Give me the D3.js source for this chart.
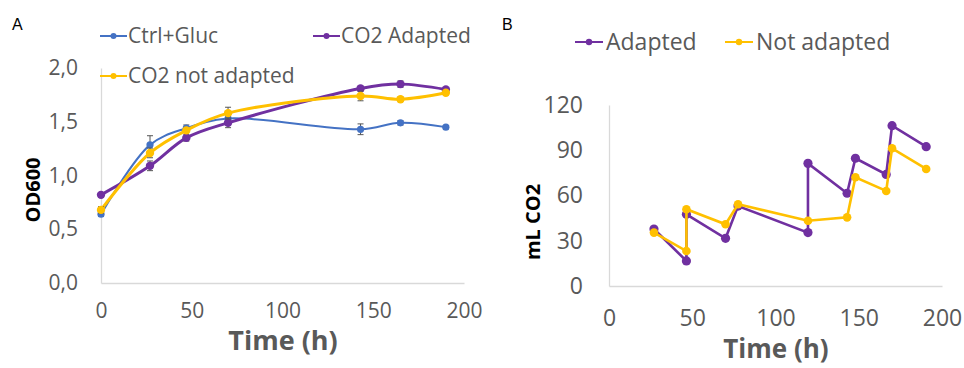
<!DOCTYPE html>
<html>
<head>
<meta charset="utf-8">
<script src="https://cdn.jsdelivr.net/npm/d3@7"></script>
<style>
  body { margin: 0; background: #fff; }
  text { font-family: "Open Sans", sans-serif; }
</style>
</head>
<body>
<div id="canvas"></div>
<script>
// panel A: OD600 growth curves
var timeA = [0, 27, 47, 70, 143, 165, 190];
var ctrlGluc = [0.64, 1.285, 1.44, 1.53, 1.43, 1.49, 1.45];
var ctrlGlucErr = [0.02, 0.085, 0.03, 0.02, 0.05, 0.02, 0.015];
var co2Adapted = [0.82, 1.09, 1.35, 1.49, 1.81, 1.85, 1.80];
var co2AdaptedErr = [0.02, 0.045, 0.03, 0.045, 0.02, 0.03, 0.015];
var co2NotAdapted = [0.68, 1.21, 1.42, 1.58, 1.74, 1.71, 1.77];
var co2NotAdaptedErr = [0.03, 0.045, 0.02, 0.055, 0.045, 0.02, 0.02];
var ticksAx = [0, 50, 100, 150, 200];
var ticksAy = [0, 0.5, 1.0, 1.5, 2.0];

// panel B: cumulative CO2 (mL)
var adaptedT = [27, 46.5, 46.5, 70, 77.5, 119.5, 119.5, 143, 148, 166.5, 170, 190.5];
var adaptedV = [37.8, 16.6, 47.5, 31.6, 53, 35.4, 81.3, 61.5, 84.7, 74, 106.3, 92.4];
var notAdaptedT = [27, 46.5, 46.5, 70, 77.5, 119.5, 143, 148, 166.5, 170, 190.5];
var notAdaptedV = [35.4, 23.2, 50.9, 40.9, 54.2, 43.3, 45.5, 72.1, 63, 91.3, 77.6];
var ticksBx = [0, 50, 100, 150, 200];
var ticksBy = [0, 30, 60, 90, 120];

var blue = "#4472c4", purple = "#7030a0", yellow = "#ffc000";
var axisGray = "#d9d9d9", textGray = "#595959";

var svg = d3.select("#canvas").append("svg")
	.attr("width", 964)
	.attr("height", 368);

var comma = function(d){ return d3.format(".1f")(d).replace(".", ","); };

// ---------- panel A ----------
var xA = d3.scaleLinear().domain([0, 200]).range([101, 464]);
var yA = d3.scaleLinear().domain([0, 2]).range([283, 68]);

svg.append("text").attr("x", 12).attr("y", 30)
	.style("font-family", "Liberation Sans").style("font-size", "16px").text("A");

var gAx = svg.append("g").attr("transform", "translate(0,283)")
	.call(d3.axisBottom(xA).tickValues(ticksAx).tickSize(0).tickPadding(20));
var gAy = svg.append("g").attr("transform", "translate(101,0)")
	.call(d3.axisLeft(yA).tickValues(ticksAy).tickSize(0).tickPadding(23).tickFormat(comma));
[gAx, gAy].forEach(function(g){
	g.select(".domain").attr("stroke", axisGray).attr("stroke-width", 1.3);
	g.selectAll("text").style("font-size", "21px").attr("fill", textGray)
		.style("font-family", "Open Sans");
});

svg.append("text").attr("transform", "translate(40,190) rotate(-90)")
	.attr("text-anchor", "middle").style("font-size", "20px").style("font-weight", "bold")
	.text("OD600");
svg.append("text").attr("x", 283).attr("y", 350).attr("text-anchor", "middle")
	.style("font-size", "27px").style("font-weight", "bold").attr("fill", textGray)
	.text("Time (h)");

var seriesA = [
	{name: "Ctrl+Gluc", vals: ctrlGluc, err: ctrlGlucErr, color: blue, w: 2, r: 3.6},
	{name: "CO2 Adapted", vals: co2Adapted, err: co2AdaptedErr, color: purple, w: 3, r: 4.2},
	{name: "CO2 not adapted", vals: co2NotAdapted, err: co2NotAdaptedErr, color: yellow, w: 3, r: 4.2}
];

var lineA = d3.line()
	.x(function(d){ return xA(d[0]); })
	.y(function(d){ return yA(d[1]); })
	.curve(d3.curveCatmullRom.alpha(0.5));

seriesA.forEach(function(s){
	var pts = timeA.map(function(t, i){ return [t, s.vals[i], s.err[i]]; });
	var g = svg.append("g");
	g.append("path").datum(pts).attr("d", lineA)
		.attr("fill", "none").attr("stroke", s.color).attr("stroke-width", s.w);
	var eb = g.selectAll(".err").data(pts).enter().append("g");
	eb.append("line")
		.attr("x1", function(d){ return xA(d[0]); }).attr("x2", function(d){ return xA(d[0]); })
		.attr("y1", function(d){ return yA(d[1] - d[2]); }).attr("y2", function(d){ return yA(d[1] + d[2]); })
		.attr("stroke", "#555").attr("stroke-width", 1);
	[-1, 1].forEach(function(sign){
		eb.append("line")
			.attr("x1", function(d){ return xA(d[0]) - 3; }).attr("x2", function(d){ return xA(d[0]) + 3; })
			.attr("y1", function(d){ return yA(d[1] + sign * d[2]); })
			.attr("y2", function(d){ return yA(d[1] + sign * d[2]); })
			.attr("stroke", "#555").attr("stroke-width", 1);
	});
	g.selectAll("circle").data(pts).enter().append("circle")
		.attr("cx", function(d){ return xA(d[0]); })
		.attr("cy", function(d){ return yA(d[1]); })
		.attr("r", s.r).attr("fill", s.color);
});

// legend A
var legA = [
	{s: seriesA[0], x: 100, y: 36},
	{s: seriesA[1], x: 313, y: 36},
	{s: seriesA[2], x: 100, y: 76}
];
legA.forEach(function(l){
	var g = svg.append("g").attr("transform", "translate(" + l.x + "," + l.y + ")");
	g.append("line").attr("x1", 0).attr("x2", 27).attr("stroke", l.s.color).attr("stroke-width", 2);
	g.append("circle").attr("cx", 13.5).attr("r", 3).attr("fill", l.s.color);
	g.append("text").attr("x", 28).attr("dy", "0.35em")
		.style("font-size", "21px").attr("fill", textGray).text(l.s.name);
});

// ---------- panel B ----------
var xB = d3.scaleLinear().domain([0, 200]).range([609, 942]);
var yB = d3.scaleLinear().domain([0, 120]).range([286, 105]);

svg.append("text").attr("x", 502).attr("y", 30)
	.style("font-family", "Liberation Sans").style("font-size", "16px").text("B");

var gBx = svg.append("g").attr("transform", "translate(0,286)")
	.call(d3.axisBottom(xB).tickValues(ticksBx).tickSize(0).tickPadding(24));
var gBy = svg.append("g").attr("transform", "translate(609,0)")
	.call(d3.axisLeft(yB).tickValues(ticksBy).tickSize(0).tickPadding(26));
[gBx, gBy].forEach(function(g){
	g.select(".domain").attr("stroke", axisGray).attr("stroke-width", 1.3);
	g.selectAll("text").style("font-size", "23px").attr("fill", textGray)
		.style("font-family", "Open Sans");
});

svg.append("text").attr("transform", "translate(540,222) rotate(-90)")
	.attr("text-anchor", "middle").style("font-size", "20px").style("font-weight", "bold")
	.text("mL CO2");
svg.append("text").attr("x", 776).attr("y", 358).attr("text-anchor", "middle")
	.style("font-size", "26px").style("font-weight", "bold").attr("fill", textGray)
	.text("Time (h)");

var seriesB = [
	{name: "Adapted", t: adaptedT, v: adaptedV, color: purple, r: 4.6},
	{name: "Not adapted", t: notAdaptedT, v: notAdaptedV, color: yellow, r: 4.3}
];
var lineB = d3.line()
	.x(function(d){ return xB(d[0]); })
	.y(function(d){ return yB(d[1]); });

seriesB.forEach(function(s){
	var pts = s.t.map(function(t, i){ return [t, s.v[i]]; });
	var g = svg.append("g");
	g.append("path").datum(pts).attr("d", lineB)
		.attr("fill", "none").attr("stroke", s.color).attr("stroke-width", 2.6);
	g.selectAll("circle").data(pts).enter().append("circle")
		.attr("cx", function(d){ return xB(d[0]); })
		.attr("cy", function(d){ return yB(d[1]); })
		.attr("r", s.r).attr("fill", s.color);
});

var legB = [{s: seriesB[0], x: 575}, {s: seriesB[1], x: 725}];
legB.forEach(function(l){
	var g = svg.append("g").attr("transform", "translate(" + l.x + ",42)");
	g.append("line").attr("x1", 0).attr("x2", 28).attr("stroke", l.s.color).attr("stroke-width", 2);
	g.append("circle").attr("cx", 14).attr("r", 3.2).attr("fill", l.s.color);
	g.append("text").attr("x", 31).attr("dy", "0.35em")
		.style("font-size", "23px").attr("fill", textGray).text(l.s.name);
});
</script>
</body>
</html>
